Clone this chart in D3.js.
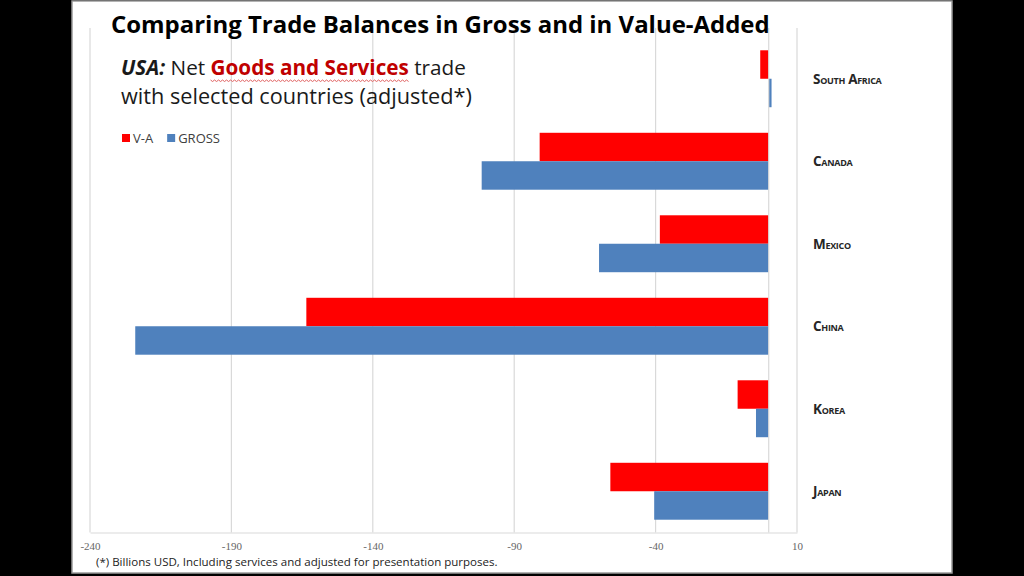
<!DOCTYPE html>
<html lang="en">
<head>
<meta charset="UTF-8">
<title>Trade balances</title>
<script src="https://cdn.jsdelivr.net/npm/d3@7"></script>
<style>
  body { margin: 0; background: #000; }
  svg { display: block; }
</style>
</head>
<body>
<div id="chart"></div>
<script>
// data: net trade balance, billions USD
var countries = ["South Africa", "Canada", "Mexico", "China", "Korea", "Japan"];
var seriesNames = ["V-A", "GROSS"];
var vaValues = [-3, -81, -38.5, -163.5, -11, -56];
var grossValues = [1, -101.5, -60, -224, -4.5, -40.5];
var tickValues = [-240, -190, -140, -90, -40, 10];

var colors = { "V-A": "#ff0000", "GROSS": "#4f81bd" };

var width = 1024, height = 576;

var svg = d3.select("#chart").append("svg")
    .attr("width", width)
    .attr("height", height);

// slide background
svg.append("rect")
    .attr("x", 72).attr("y", 1)
    .attr("width", 880).attr("height", 572)
    .attr("fill", "#fff")
    .attr("stroke", "#9a9a9a")
    .attr("stroke-width", 1.5);

// scales
var x = d3.scaleLinear().domain([-240, 10]).range([90, 797]);
var y0 = d3.scaleBand().domain(countries).range([37.5, 532.5])
    .paddingInner(0.31).paddingOuter(0.155);
var y1 = d3.scaleBand().domain(seriesNames).range([0, y0.bandwidth()]);

var plotTop = 28, plotBottom = 532.5;

// vertical gridlines
svg.append("g").selectAll("line")
    .data(tickValues)
    .enter().append("line")
    .attr("x1", function(d) { return x(d); })
    .attr("x2", function(d) { return x(d); })
    .attr("y1", plotTop).attr("y2", plotBottom)
    .attr("stroke", "#d9d9d9").attr("stroke-width", 1.2);

// bottom axis (plain hyphen minus like the slide)
var xAxis = d3.axisBottom(x).tickValues(tickValues).tickSize(0).tickPadding(10)
    .tickFormat(function(d) { return String(d); });
var ax = svg.append("g")
    .attr("transform", "translate(0," + plotBottom + ")")
    .call(xAxis);
ax.select(".domain").attr("stroke", "#d9d9d9").attr("stroke-width", 1.2);
ax.selectAll("text")
    .attr("font-family", "'Liberation Serif', serif")
    .attr("font-size", 11)
    .attr("fill", "#666");

// bars
var rows = countries.map(function(c, i) {
    return { country: c, values: [
        { key: "V-A", value: vaValues[i] },
        { key: "GROSS", value: grossValues[i] }
    ]};
});

var groups = svg.append("g").selectAll("g")
    .data(rows)
    .enter().append("g")
    .attr("transform", function(d) { return "translate(0," + y0(d.country) + ")"; });

groups.selectAll("rect")
    .data(function(d) { return d.values; })
    .enter().append("rect")
    .attr("x", function(d) { return x(Math.min(0, d.value)); })
    .attr("width", function(d) { return Math.abs(x(d.value) - x(0)); })
    .attr("y", function(d) { return y1(d.key); })
    .attr("height", y1.bandwidth())
    .attr("fill", function(d) { return colors[d.key]; });

// zero (category) axis line
svg.append("line")
    .attr("x1", x(0)).attr("x2", x(0))
    .attr("y1", plotTop).attr("y2", plotBottom)
    .attr("stroke", "#d9d9d9").attr("stroke-width", 1.2);

// scale a text element's font size so it spans a given width
function fit(sel, target) {
    var size = +sel.attr("font-size");
    var w = sel.node().getComputedTextLength();
    sel.attr("font-size", size * target / w);
}

// country labels
var labels = svg.append("g").selectAll("text")
    .data(countries)
    .enter().append("text")
    .attr("x", 813)
    .attr("y", function(d) { return y0(d) + y0.bandwidth() / 2 + 5; })
    .attr("font-family", "'Open Sans', sans-serif")
    .attr("font-weight", "bold")
    .attr("font-size", 13.5)
    .attr("font-variant", "small-caps")
    .attr("letter-spacing", -0.3)
    .attr("fill", "#262626")
    .text(function(d) { return d; });

// title
var title = svg.append("text")
    .attr("x", 111).attr("y", 33)
    .attr("font-family", "'Open Sans', sans-serif")
    .attr("font-weight", "bold")
    .attr("font-size", 24)
    .attr("fill", "#000")
    .text("Comparing Trade Balances in Gross and in Value-Added");
fit(title, 659);

// subtitle
var sub1 = svg.append("text")
    .attr("x", 121).attr("y", 75)
    .attr("font-family", "'Open Sans', sans-serif")
    .attr("font-size", 19)
    .attr("fill", "#1a1a1a");
sub1.append("tspan").attr("font-weight", "bold").attr("font-style", "italic").text("USA:");
sub1.append("tspan").text(" Net ");
var gs = sub1.append("tspan").attr("font-weight", "bold").attr("fill", "#c00000").text("Goods and Services");
sub1.append("tspan").text(" trade");
fit(sub1, 345);

var sub2 = svg.append("text")
    .attr("x", 121).attr("y", 104)
    .attr("font-family", "'Open Sans', sans-serif")
    .attr("font-size", 19)
    .attr("fill", "#1a1a1a")
    .text("with selected countries (adjusted*)");
fit(sub2, 351);

// wavy underline under the red words
var bb = gs.node().getBBox();
var wave = [];
for (var px = bb.x; px <= bb.x + bb.width; px += 2) {
    wave.push([px, 80 + ((px - bb.x) / 2 % 2 === 0 ? 0 : 1.5)]);
}
svg.append("path")
    .attr("d", d3.line()(wave))
    .attr("fill", "none")
    .attr("stroke", "#e06060")
    .attr("stroke-width", 1);

// legend
var legend = svg.append("g").attr("transform", "translate(122,138)");
var lx = 0;
seriesNames.forEach(function(s) {
    legend.append("rect")
        .attr("x", lx).attr("y", -4)
        .attr("width", 8).attr("height", 8)
        .attr("fill", colors[s]);
    var t = legend.append("text")
        .attr("x", lx + 11).attr("y", 5)
        .attr("font-family", "'Open Sans', sans-serif")
        .attr("font-size", 13)
        .attr("fill", "#404040")
        .text(s);
    lx += 11 + t.node().getComputedTextLength() + 14;
});

// footnote
var foot = svg.append("text")
    .attr("x", 96).attr("y", 566)
    .attr("font-family", "'Open Sans', sans-serif")
    .attr("font-size", 10.5)
    .attr("fill", "#222")
    .text("(*) Billions USD,  Including services and adjusted for presentation purposes.");
fit(foot, 402);
</script>
</body>
</html>
